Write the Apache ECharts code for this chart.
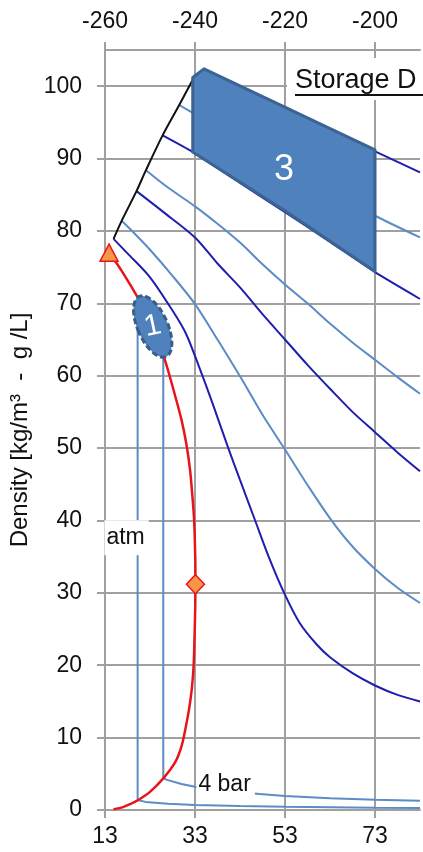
<!DOCTYPE html>
<html lang="en">
<head>
<meta charset="UTF-8">
<title>Hydrogen density</title>
<script src="https://cdn.jsdelivr.net/npm/echarts@6/dist/echarts.min.js"></script>
<style>
  html, body { margin: 0; padding: 0; background: #fff; }
  #chart { width: 423px; height: 852px; }
</style>
</head>
<body>
<div id="chart"></div>
<script>
// tick labels
var kelvinTicks = [13, 33, 53, 73];
var celsiusTicks = [-260, -240, -220, -200];
var densityTicks = [0, 10, 20, 30, 40, 50, 60, 70, 80, 90, 100];

// curves: [temperature K, density kg/m3]
var isoA = [[35, 102.3], [43, 100.0], [53, 97.1], [63, 94.0], [73, 91.0], [83, 88.1]];
var isoB = [[29.5, 97.4], [32.5, 96.3], [43, 92.6], [53, 89.1], [63, 85.6], [73, 82.1], [83, 79.1]];
var isoC = [[25.8, 93.2], [32.5, 90.9], [46.3, 85.3], [53, 82.6], [63, 78.5], [73, 74.3], [83, 70.6]];
var isoD = [[22.1, 88.4], [27, 86.0], [33, 83.4], [38, 81.0], [43, 78.4], [48, 75.4], [53, 72.6], [58, 70.0], [63, 67.2], [68, 64.6], [73, 62.2], [78, 59.8], [83, 57.5]];
var isoE = [[20, 85.5], [26, 82.6], [33, 79.1], [38, 75.5], [43, 72.2], [48, 68.5], [53, 65.0], [58, 61.5], [63, 58.2], [68, 55.0], [73, 52.2], [78, 49.4], [83, 46.8]];
var isoF = [[16.7, 81.4], [19, 80.0], [23, 77.4], [28, 73.8], [33, 69.9], [38, 65.0], [43.4, 59.5], [48, 54.6], [53, 49.8], [58, 44.9], [63, 40.3], [68, 36.4], [73, 33.3], [78, 30.7], [83, 28.6]];
var isoG = [[14.9, 78.9], [18, 76.9], [23, 73.6], [28, 69.0], [31, 65.8], [34.1, 60.9], [37, 56.0], [40.4, 50.0], [43, 45.6], [46.3, 40.1], [49.5, 34.8], [52.8, 30.0], [56.3, 25.8], [60, 22.9], [63, 21.1], [68, 18.9], [73, 17.2], [78, 15.9], [83, 15.0]];
var atmLine = [[20.25, 70.8], [20.25, 1.38], [22, 1.12], [27, 0.85], [33, 0.7], [43, 0.55], [53, 0.45], [63, 0.38], [73, 0.32], [83, 0.28]];
var bar4Line = [[25.95, 63.2], [25.95, 4.5], [26.6, 4.2], [30, 3.6], [33, 3.2], [40, 2.6], [47.4, 2.2], [53, 1.95], [63, 1.62], [73, 1.42], [83, 1.28]];
var meltLine = [[14.9, 78.9], [16.7, 81.4], [20, 85.5], [22.1, 88.4], [25.8, 93.2], [29.5, 97.4], [32.5, 100.9]];
var satLine = [[14.9, 0.1], [17, 0.4], [18.5, 0.8], [20.3, 1.35], [23, 2.5], [26, 4.4], [28.6, 6.6], [30, 8.8], [30.8, 11.0], [31.7, 14], [32.3, 16.8], [32.7, 20], [32.9, 24], [33.05, 28], [33.1, 31.3], [33.05, 35], [32.8, 40.1], [32.4, 43.5], [31.9, 47.0], [31.1, 50.5], [30.0, 53.9], [28.2, 58.1], [26.3, 62.2], [24, 66.0], [22, 68.9], [20.3, 70.8], [17.4, 73.8], [15.5, 75.6], [13.9, 76.9]];
var triplePoint = [[13.9, 77.0]];
var criticalPoint = [[33.1, 31.2]];

// storage regions
var region3 = [[32.5, 101.2], [35, 102.4], [73, 91.2], [73, 74.4], [53, 82.8], [32.5, 90.9]];
var region3Label = [52.8, 88.4];
var region1Center = [23.6, 66.8];

// text labels
var atmLabel = [17.8, 37.6];
var bar4Label = [39.8, 3.5];

var FONT = '"Liberation Sans", Arial, sans-serif';
var DARK = '#1f1fae';
var LIGHT = '#5b8cc6';
var GRID = '#a0a0a0';

var chart = echarts.init(document.getElementById('chart'));

function iso(data, color, smooth) {
    return {
        type: 'line', data: data, symbol: 'none', smooth: smooth, silent: true, z: 2,
        lineStyle: { color: color, width: 2 }
    };
}

var option = {
    animation: false,
    backgroundColor: '#fff',
    textStyle: { fontFamily: FONT },
    grid: { left: 105, right: 3, top: 50, bottom: 42, containLabel: false, outerBoundsMode: 'none' },
    xAxis: [{
        type: 'value', position: 'bottom', min: 13, max: 83, interval: 10,
        axisLine: { show: true, lineStyle: { color: GRID, width: 2 } },
        axisTick: { show: true, inside: false, length: 8, customValues: kelvinTicks, lineStyle: { color: GRID, width: 2 } },
        axisLabel: { customValues: kelvinTicks, fontSize: 23, color: '#111', margin: 15, fontFamily: FONT },
        splitLine: { show: true, lineStyle: { color: GRID, width: 2 } }
    }, {
        type: 'value', position: 'top', min: -260, max: -190, interval: 10,
        axisLine: { show: true, lineStyle: { color: GRID, width: 2 } },
        axisTick: { show: true, inside: false, length: 8, customValues: celsiusTicks, lineStyle: { color: GRID, width: 2 } },
        axisLabel: { customValues: celsiusTicks, fontSize: 23, color: '#111', margin: 17, fontFamily: FONT },
        splitLine: { show: false }
    }],
    yAxis: {
        type: 'value', min: 0, max: 105, interval: 10,
        name: 'Density [kg/m³  -  g /L]',
        nameLocation: 'middle', nameRotate: 90, nameGap: 71,
        nameTextStyle: { fontSize: 24, color: '#111', fontFamily: FONT },
        axisLine: { show: true, lineStyle: { color: GRID, width: 2 } },
        axisTick: { show: true, inside: false, length: 8, customValues: densityTicks, lineStyle: { color: GRID, width: 2 } },
        axisLabel: { customValues: densityTicks, fontSize: 23, color: '#111', margin: 23, fontFamily: FONT },
        splitLine: { show: true, lineStyle: { color: GRID, width: 2 } }
    },
    series: [
        iso(isoG, DARK, 0.3),
        iso(isoF, LIGHT, 0.3),
        iso(isoE, DARK, 0.3),
        iso(isoD, LIGHT, 0.3),
        iso(isoC, DARK, 0.2),
        iso(isoB, LIGHT, 0.2),
        iso(isoA, DARK, 0.2),
        iso(atmLine, LIGHT, false),
        iso(bar4Line, LIGHT, false),
        {
            type: 'line', data: meltLine, symbol: 'none', smooth: 0.3, silent: true, z: 2,
            lineStyle: { color: '#111', width: 2 }
        },
        {
            type: 'line', data: satLine, symbol: 'none', smooth: 0.3, silent: true, z: 2,
            lineStyle: { color: '#e8141c', width: 2.5 }
        },
        {
            // region 3
            type: 'custom', silent: true, data: [0], z: 4,
            renderItem: function (params, api) {
                var pts = region3.map(function (p) { return api.coord(p); });
                var c = api.coord(region3Label);
                return {
                    type: 'group', children: [
                        { type: 'polygon', shape: { points: pts },
                          style: { fill: '#4f81bd', stroke: '#3b6494', lineWidth: 3, lineJoin: 'round' } },
                        { type: 'text', x: c[0], y: c[1], z2: 10,
                          style: { text: '3', align: 'center', verticalAlign: 'middle', fill: '#fff', font: '36px ' + FONT } }
                    ]
                };
            }
        },
        {
            // region 1
            type: 'custom', silent: true, data: [0], z: 4,
            renderItem: function (params, api) {
                var c = api.coord(region1Center);
                return {
                    type: 'group', x: c[0], y: c[1], rotation: 24 * Math.PI / 180, children: [
                        { type: 'ellipse', shape: { cx: 0, cy: 0, rx: 15, ry: 33 },
                          style: { fill: '#4f81bd', stroke: '#385d8a', lineWidth: 3, lineDash: [6, 3] } },
                        { type: 'text', x: 0, y: 0, z2: 10, rotation: -12 * Math.PI / 180,
                          style: { text: '1', align: 'center', verticalAlign: 'middle', fill: '#fff', font: '30px ' + FONT } }
                    ]
                };
            }
        },
        {
            type: 'scatter', data: triplePoint, symbol: 'triangle', symbolSize: [18, 17], silent: true, z: 5,
            itemStyle: { color: '#f79646', borderColor: '#e8141c', borderWidth: 1.5, opacity: 1 }
        },
        {
            type: 'scatter', data: criticalPoint, symbol: 'diamond', symbolSize: [18, 19], silent: true, z: 5,
            itemStyle: { color: '#f79646', borderColor: '#e8141c', borderWidth: 1.5, opacity: 1 }
        },
        {
            type: 'scatter', symbolSize: 0, silent: true, z: 6,
            itemStyle: { opacity: 1 },
            data: [
                { value: atmLabel, label: { formatter: 'atm', padding: [6, 4, 6, 2] } },
                { value: bar4Label, label: { formatter: '4 bar', padding: [2, 4, 1, 2] } }
            ],
            label: { show: true, position: 'inside', color: '#111', opacity: 1, fontSize: 23, fontFamily: FONT, backgroundColor: '#fff' }
        }
    ],
    graphic: [
        { type: 'rect', z: 100, shape: { x: 287, y: 58, width: 140, height: 42 }, style: { fill: '#fff' } },
        { type: 'text', z: 101, x: 295, y: 80.5,
          style: { text: 'Storage D', verticalAlign: 'middle', fill: '#111', font: '27px ' + FONT } },
        { type: 'line', z: 101, shape: { x1: 295, y1: 95, x2: 423, y2: 95 }, style: { stroke: '#111', lineWidth: 2 } }
    ]
};

chart.setOption(option);
</script>
</body>
</html>
